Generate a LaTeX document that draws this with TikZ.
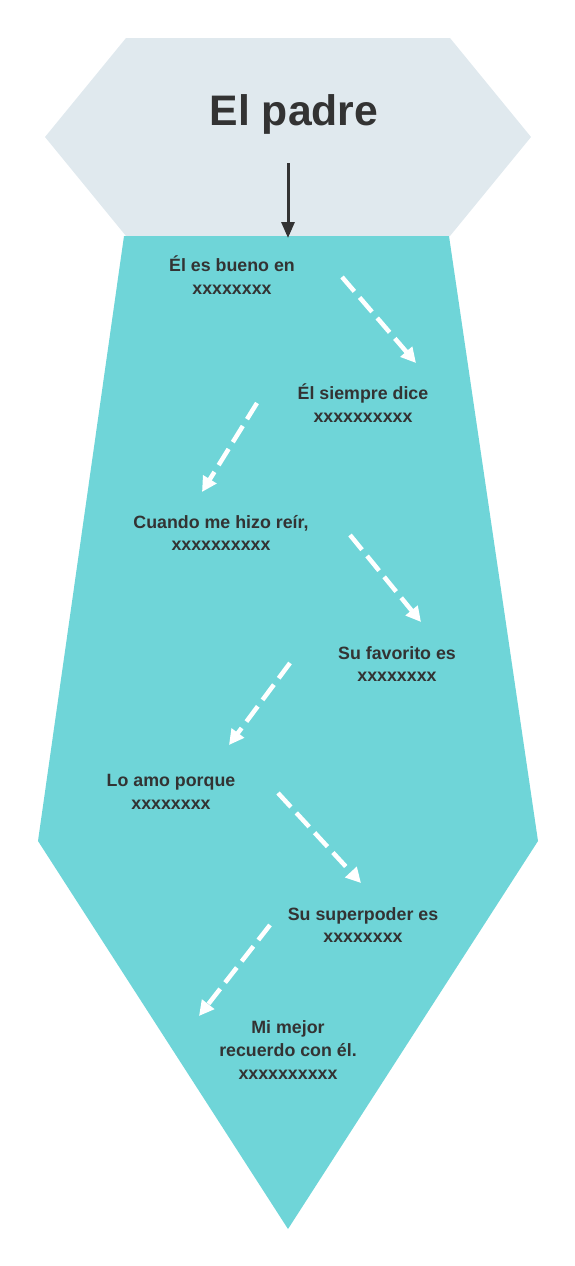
\documentclass[tikz,border=0pt]{standalone}
\usepackage{fontspec}
\setmainfont{Liberation Sans}
\usetikzlibrary{arrows.meta}
\definecolor{knot}{HTML}{E0E9EE}
\definecolor{tie}{HTML}{6FD5D8}
\definecolor{ink}{HTML}{333333}
\begin{document}
\begin{tikzpicture}[x=1pt,y=-1pt,
  lbl/.style={font=\bfseries\fontsize{17.8}{22.8}\selectfont, text=ink, align=center, inner sep=0pt},
  flow/.style={draw=white, line width=4.5pt, dash pattern=on 19pt off 8pt, -{Triangle[length=15pt,width=15pt]}},
  mainarrow/.style={draw=ink, line width=3pt, -{Triangle[length=16pt,width=13pt]}}
]
\useasboundingbox (0,0) rectangle (575,1266);
\fill[knot] (126,38) -- (450,38) -- (531,137) -- (450,236) -- (126,236) -- (45,137) -- cycle;
\fill[tie] (124,236) -- (449,236) -- (538,841) -- (288,1229) -- (38,841) -- cycle;
\node[font=\bfseries\fontsize{42.7}{50}\selectfont, text=ink, inner sep=0pt] (title) at (294,114) {El padre};
\coordinate (s0) at (288,163);
\coordinate (e0) at (288,238);
\draw[mainarrow] (s0) -- (e0);

\node[lbl] (t1) at (232,275) {Él es bueno en\\xxxxxxxx};
\node[lbl] (t2) at (363,403) {Él siempre dice\\xxxxxxxxxx};
\node[lbl] (t3) at (221,533) {Cuando me hizo reír,\\xxxxxxxxxx};
\node[lbl] (t4) at (397,664) {Su favorito es\\xxxxxxxx};
\node[lbl] (t5) at (171,792) {Lo amo porque\\xxxxxxxx};
\node[lbl] (t6) at (363,925) {Su superpoder es\\xxxxxxxx};
\node[lbl] (t7) at (288,1050) {Mi mejor\\recuerdo con él.\\xxxxxxxxxx};

\coordinate (a1s) at (342,277); \coordinate (a1e) at (416,363);
\coordinate (a2s) at (257,403); \coordinate (a2e) at (202,492);
\coordinate (a3s) at (350,535); \coordinate (a3e) at (421,622);
\coordinate (a4s) at (290,663); \coordinate (a4e) at (229,745);
\coordinate (a5s) at (278,793); \coordinate (a5e) at (361,883);
\coordinate (a6s) at (270,925); \coordinate (a6e) at (199,1016);
\foreach \i in {1,...,6} { \draw[flow] (a\i s) -- (a\i e); }
\end{tikzpicture}
\end{document}
